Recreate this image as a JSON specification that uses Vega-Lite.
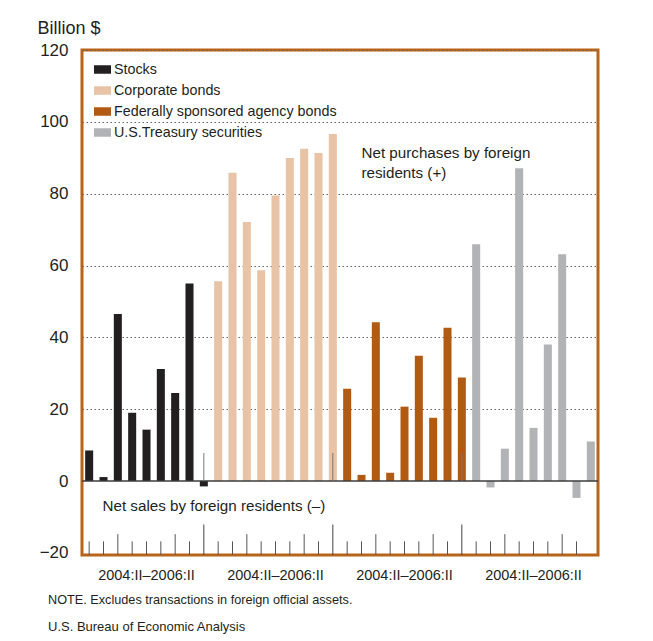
{
  "$schema": "https://vega.github.io/schema/vega-lite/v6.json",
  "width": 516,
  "height": 505,
  "autosize": "none",
  "padding": {"left": 82, "top": 50, "right": 55, "bottom": 86},
  "background": "white",
  "config": {
    "view": {"stroke": "#b8641a", "strokeWidth": 3},
    "font": "Liberation Sans"
  },
  "title": {
    "text": "NOTE. Excludes transactions in foreign official assets.",
    "subtitle": "U.S. Bureau of Economic Analysis",
    "orient": "bottom",
    "anchor": "start",
    "frame": "group",
    "dx": -34,
    "offset": 12,
    "font": "Liberation Sans",
    "fontSize": 12.7,
    "fontWeight": "normal",
    "color": "#231f20",
    "subtitleFont": "Liberation Sans",
    "subtitleFontSize": 13,
    "subtitleColor": "#231f20",
    "subtitlePadding": 15
  },
  "datasets": {
    "flows": [
      {"series": "Stocks", "quarter": "2004:II", "value": 8.5},
      {"series": "Stocks", "quarter": "2004:III", "value": 1.1},
      {"series": "Stocks", "quarter": "2004:IV", "value": 46.5},
      {"series": "Stocks", "quarter": "2005:I", "value": 19.0},
      {"series": "Stocks", "quarter": "2005:II", "value": 14.3},
      {"series": "Stocks", "quarter": "2005:III", "value": 31.2},
      {"series": "Stocks", "quarter": "2005:IV", "value": 24.5},
      {"series": "Stocks", "quarter": "2006:I", "value": 55.0},
      {"series": "Stocks", "quarter": "2006:II", "value": -1.5},
      {"series": "Corporate bonds", "quarter": "2004:II", "value": 55.6},
      {"series": "Corporate bonds", "quarter": "2004:III", "value": 85.8},
      {"series": "Corporate bonds", "quarter": "2004:IV", "value": 72.1},
      {"series": "Corporate bonds", "quarter": "2005:I", "value": 58.7},
      {"series": "Corporate bonds", "quarter": "2005:II", "value": 79.5},
      {"series": "Corporate bonds", "quarter": "2005:III", "value": 89.9},
      {"series": "Corporate bonds", "quarter": "2005:IV", "value": 92.5},
      {"series": "Corporate bonds", "quarter": "2006:I", "value": 91.3},
      {"series": "Corporate bonds", "quarter": "2006:II", "value": 96.6},
      {"series": "Federally sponsored agency bonds", "quarter": "2004:II", "value": 25.7},
      {"series": "Federally sponsored agency bonds", "quarter": "2004:III", "value": 1.7},
      {"series": "Federally sponsored agency bonds", "quarter": "2004:IV", "value": 44.2},
      {"series": "Federally sponsored agency bonds", "quarter": "2005:I", "value": 2.3},
      {"series": "Federally sponsored agency bonds", "quarter": "2005:II", "value": 20.7},
      {"series": "Federally sponsored agency bonds", "quarter": "2005:III", "value": 34.9},
      {"series": "Federally sponsored agency bonds", "quarter": "2005:IV", "value": 17.6},
      {"series": "Federally sponsored agency bonds", "quarter": "2006:I", "value": 42.7},
      {"series": "Federally sponsored agency bonds", "quarter": "2006:II", "value": 28.8},
      {"series": "U.S.Treasury securities", "quarter": "2004:II", "value": 65.9},
      {"series": "U.S.Treasury securities", "quarter": "2004:III", "value": -1.8},
      {"series": "U.S.Treasury securities", "quarter": "2004:IV", "value": 9.0},
      {"series": "U.S.Treasury securities", "quarter": "2005:I", "value": 87.1},
      {"series": "U.S.Treasury securities", "quarter": "2005:II", "value": 14.8},
      {"series": "U.S.Treasury securities", "quarter": "2005:III", "value": 38.0},
      {"series": "U.S.Treasury securities", "quarter": "2005:IV", "value": 63.1},
      {"series": "U.S.Treasury securities", "quarter": "2006:I", "value": -4.7},
      {"series": "U.S.Treasury securities", "quarter": "2006:II", "value": 11.0}
    ]
  },
  "data": {"name": "flows"},
  "layer": [
    {
      "mark": {"type": "bar"},
      "encoding": {
        "x": {
          "field": "series", "type": "nominal",
          "sort": ["Stocks", "Corporate bonds", "Federally sponsored agency bonds", "U.S.Treasury securities"],
          "scale": {"paddingInner": 0, "paddingOuter": 0},
          "axis": {
            "title": null, "domain": false, "ticks": false,
            "labelExpr": "'2004:II–2006:II'", "labelAngle": 0,
            "labelFontSize": 14.5, "labelPadding": 20, "labelBaseline": "middle",
            "labelColor": "#231f20", "labelFont": "Liberation Sans"
          }
        },
        "xOffset": {
          "field": "quarter", "type": "nominal",
          "sort": ["2004:II", "2004:III", "2004:IV", "2005:I", "2005:II", "2005:III", "2005:IV", "2006:I", "2006:II"],
          "scale": {"paddingInner": 0.44, "paddingOuter": 0.22}
        },
        "y": {
          "field": "value", "type": "quantitative",
          "scale": {"domain": [-20.6, 120], "nice": false, "zero": false},
          "axis": {
            "title": "Billion $",
            "values": [-20, 0, 20, 40, 60, 80, 100, 120],
            "domain": false, "ticks": false,
            "labelPadding": 14, "labelFontSize": 17, "labelColor": "#231f20", "labelFont": "Liberation Sans",
            "grid": true, "gridColor": "#666666", "gridDash": [1.5, 2.5], "gridWidth": 1,
            "gridOpacity": {"condition": {"test": "datum.value <= 0", "value": 0}, "value": 1},
            "titleAngle": 0, "titleAlign": "left", "titleBaseline": "middle",
            "titleX": -45, "titleY": -22, "titleFontSize": 18, "titleFontWeight": "normal",
            "titleColor": "#231f20", "titleFont": "Liberation Sans"
          }
        },
        "color": {
          "field": "series", "type": "nominal",
          "scale": {
            "domain": ["Stocks", "Corporate bonds", "Federally sponsored agency bonds", "U.S.Treasury securities"],
            "range": ["#231f20", "#e8c3a5", "#b35a12", "#b2b3b7"]
          },
          "legend": {
            "title": null, "orient": "none", "legendX": 12, "legendY": 11,
            "symbolType": "M-1,-0.5H1V0.5H-1Z", "symbolSize": 289, "symbolStrokeWidth": 0,
            "labelFont": "Liberation Sans", "labelFontSize": 14.3, "labelColor": "#231f20",
            "labelLimit": 400, "rowPadding": 5, "labelOffset": 3
          }
        }
      }
    },
    {
      "mark": {"type": "rule", "color": "#3c3c3c", "strokeWidth": 1.3},
      "data": {"values": [{}]},
      "encoding": {"y": {"datum": 0}}
    },
    {
      "mark": {"type": "rule", "color": "#555555", "strokeWidth": 1, "xOffset": 7.17},
      "transform": [{"filter": {"field": "quarter", "oneOf": ["2004:II", "2004:III", "2005:I", "2005:II", "2005:III", "2006:I"]}}],
      "encoding": {
        "x": {"field": "series", "type": "nominal", "sort": ["Stocks", "Corporate bonds", "Federally sponsored agency bonds", "U.S.Treasury securities"]},
        "xOffset": {"field": "quarter", "type": "nominal", "sort": ["2004:II", "2004:III", "2004:IV", "2005:I", "2005:II", "2005:III", "2005:IV", "2006:I", "2006:II"]},
        "y": {"datum": -20.6},
        "y2": {"datum": -16.8}
      }
    },
    {
      "mark": {"type": "rule", "color": "#555555", "strokeWidth": 1, "xOffset": 7.17},
      "transform": [{"filter": {"field": "quarter", "oneOf": ["2004:IV", "2005:IV"]}}],
      "encoding": {
        "x": {"field": "series", "type": "nominal", "sort": ["Stocks", "Corporate bonds", "Federally sponsored agency bonds", "U.S.Treasury securities"]},
        "xOffset": {"field": "quarter", "type": "nominal", "sort": ["2004:II", "2004:III", "2004:IV", "2005:I", "2005:II", "2005:III", "2005:IV", "2006:I", "2006:II"]},
        "y": {"datum": -20.6},
        "y2": {"datum": -14.8}
      }
    },
    {
      "mark": {"type": "rule", "color": "#444444", "strokeWidth": 1, "xOffset": 7.17},
      "transform": [{"filter": {"field": "quarter", "equal": "2006:II"}}, {"filter": {"field": "series", "oneOf": ["Stocks", "Corporate bonds", "Federally sponsored agency bonds"]}}],
      "encoding": {
        "x": {"field": "series", "type": "nominal", "sort": ["Stocks", "Corporate bonds", "Federally sponsored agency bonds", "U.S.Treasury securities"]},
        "xOffset": {"field": "quarter", "type": "nominal", "sort": ["2004:II", "2004:III", "2004:IV", "2005:I", "2005:II", "2005:III", "2005:IV", "2006:I", "2006:II"]},
        "y": {"datum": -20.6},
        "y2": {"datum": -12.1}
      }
    },
    {
      "mark": {"type": "rule", "color": "#777777", "strokeWidth": 1, "xOffset": 7.17},
      "transform": [{"filter": {"field": "quarter", "equal": "2006:II"}}, {"filter": {"field": "series", "oneOf": ["Stocks", "Corporate bonds", "Federally sponsored agency bonds"]}}],
      "encoding": {
        "x": {"field": "series", "type": "nominal", "sort": ["Stocks", "Corporate bonds", "Federally sponsored agency bonds", "U.S.Treasury securities"]},
        "xOffset": {"field": "quarter", "type": "nominal", "sort": ["2004:II", "2004:III", "2004:IV", "2005:I", "2005:II", "2005:III", "2005:IV", "2006:I", "2006:II"]},
        "y": {"datum": 0},
        "y2": {"datum": 7.8}
      }
    },
    {
      "mark": {"type": "text", "text": ["Net purchases by foreign", "residents (+)"], "align": "left", "baseline": "alphabetic", "font": "Liberation Sans", "fontSize": 15.2, "lineHeight": 19.5, "color": "#231f20"},
      "data": {"values": [{}]},
      "encoding": {
        "x": {"datum": "Federally sponsored agency bonds"},
        "xOffset": {"datum": "2004:III"},
        "y": {"datum": 89.8}
      }
    },
    {
      "mark": {"type": "text", "text": "Net sales by foreign residents (–)", "align": "left", "baseline": "alphabetic", "font": "Liberation Sans", "fontSize": 15.2, "dx": -1, "color": "#231f20"},
      "data": {"values": [{}]},
      "encoding": {
        "x": {"datum": "Stocks"},
        "xOffset": {"datum": "2004:III"},
        "y": {"datum": -8.3}
      }
    }
  ]
}
